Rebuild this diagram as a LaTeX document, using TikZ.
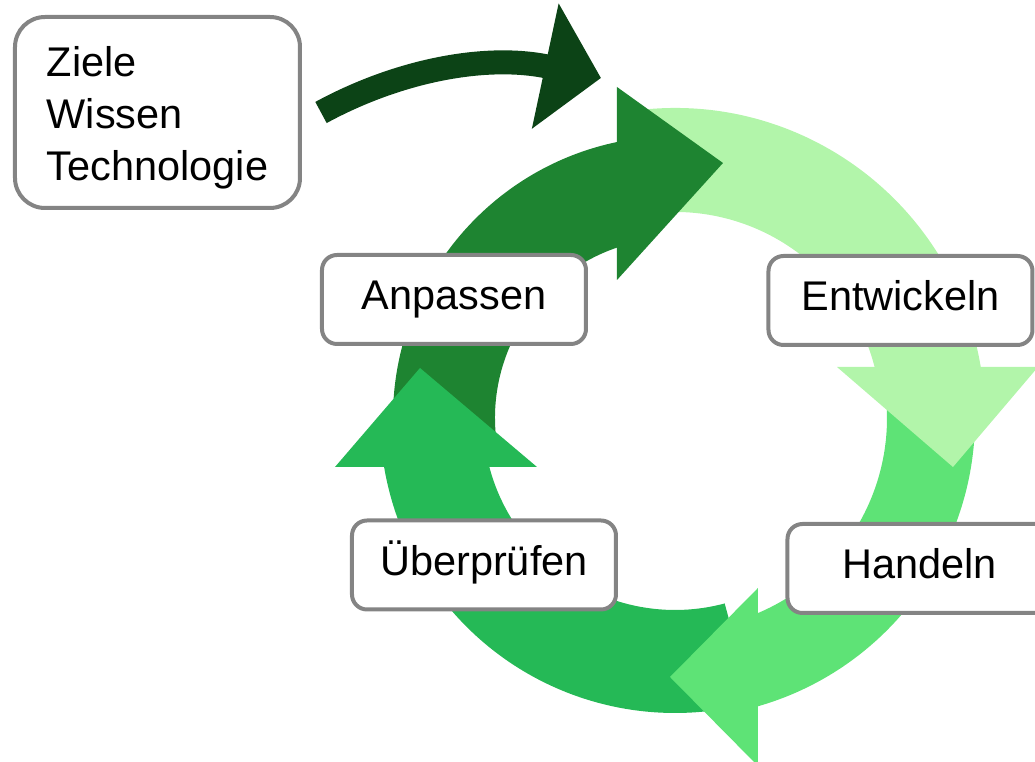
\documentclass[tikz,border=0pt]{standalone}
\usepackage{fontspec}
\setmainfont{Liberation Sans}
\usetikzlibrary{arrows.meta}

\definecolor{anpassgruen}{RGB}{30,132,49}
\definecolor{entwickelgruen}{RGB}{178,245,170}
\definecolor{handelgruen}{RGB}{94,227,118}
\definecolor{pruefgruen}{RGB}{37,185,86}
\definecolor{zielgruen}{RGB}{12,67,22}
\definecolor{rahmengrau}{RGB}{132,132,132}

\newcommand{\kastenschrift}{\fontsize{11.8}{14.8}\selectfont}

\tikzset{
  kasten/.style={draw=rahmengrau, line width=0.04cm, fill=white, rounded corners=0.15cm, font=\kastenschrift},
  schritt/.style={kasten, minimum width=2.64cm, minimum height=0.89cm, text height=0.30cm, text depth=0.09cm},
  zielpfeil/.style={draw=zielgruen, line width=0.24cm, -{Triangle[length=0.57cm,width=1.25cm,fill=zielgruen]}}
}

\begin{document}
\begin{tikzpicture}
\clip (0,0) rectangle (10.35,7.62);

\begin{scope}[shift={(6.75,3.44)}]
% bodies
\fill[anpassgruen] (187:2.82) arc[start angle=187, end angle=101, radius=2.82] -- (108:1.80) arc[start angle=108, end angle=187, radius=1.80] -- cycle;
\fill[pruefgruen] (-75:2.95) arc[start angle=-75, end angle=-171.5, radius=2.95] -- (-166.2:1.92) arc[start angle=-166.2, end angle=-75, radius=1.92] -- cycle;
\fill[handelgruen] (8:3.00) arc[start angle=8, end angle=-75, radius=3.00] -- (-68:2.12) arc[start angle=-68, end angle=8, radius=2.12] -- cycle;
\fill[entwickelgruen] (98:3.10) arc[start angle=98, end angle=8.5, radius=3.10] -- (13.3:2.06) arc[start angle=13.3, end angle=98, radius=2.06] -- cycle;
% heads
\fill[anpassgruen] (-0.58,3.31) -- (0.48,2.55) -- (-0.58,1.38) -- cycle;
\fill[entwickelgruen] (1.62,0.51) -- (3.63,0.51) -- (2.78,-0.49) -- cycle;
\fill[handelgruen] (0.83,-1.70) -- (0.83,-3.48) -- (-0.05,-2.59) -- cycle;
\fill[pruefgruen] (-3.40,-0.49) -- (-1.38,-0.49) -- (-2.55,0.50) -- cycle;
\end{scope}

\node[schritt] (anpassen) at (4.54,4.625) {Anpassen};
\node[schritt] (entwickeln) at (9.005,4.615) {Entwickeln};
\node[schritt] (handeln) at (9.195,1.935) {Handeln};
\node[schritt] (pruefen) at (4.84,1.97) {Überprüfen};

\node[kasten, align=left, minimum width=2.85cm, minimum height=1.91cm, rounded corners=0.3cm] (ziele) at (1.575,6.495) {\rule{0pt}{0.40cm}Ziele\\Wissen\\Technologie};
\coordinate (kreis) at (6.01,6.84);
\draw[zielpfeil] ([xshift=0.19cm]ziele.east) .. controls (3.985,6.917) and (4.863,7.085) .. (kreis);

\end{tikzpicture}
\end{document}
